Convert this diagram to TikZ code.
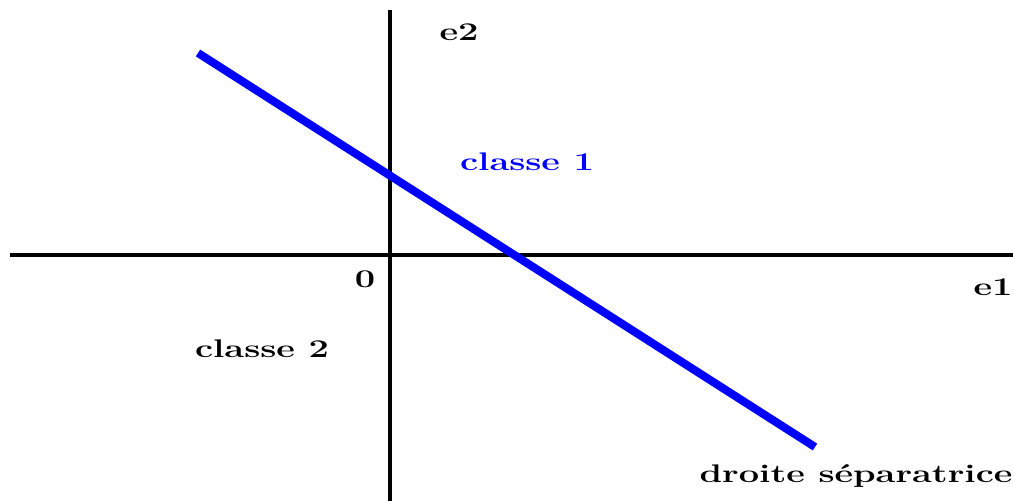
\documentclass[tikz,border=0pt]{standalone}
\usepackage{tikz}

\begin{document}
\begin{tikzpicture}[
  lbl/.style={font=\fontsize{14.5}{17}\selectfont\bfseries, xscale=1.42,
              inner sep=0pt},
  axis/.style={black, line width=2.2pt},
  sep/.style={blue, line width=4.6pt},
]
\useasboundingbox (0,0) rectangle (20.26,10.02);

% ---------------- axes --------------------------------------------------
\coordinate (xa) at (0.20, 4.92);
\coordinate (xb) at (20.26, 4.92);
\coordinate (ya) at (7.80, 0.00);
\coordinate (yb) at (7.80, 9.82);
\draw[axis] (xa) -- (xb);
\draw[axis] (ya) -- (yb);

\node[lbl] (e2) at (9.18, 9.38) {e2};
\node[lbl] (e1) at (19.86, 4.28) {e1};
\node[lbl] (orig) at (7.30, 4.44) {0};

% ---------------- separating line ---------------------------------------
\coordinate (sa) at (3.96, 8.96);
\coordinate (sb) at (16.30, 1.08);
\draw[sep] (sa) -- (sb);

% ---------------- classes -----------------------------------------------
\node[lbl, blue] (c1) at (10.54, 6.78) {classe 1};
\node[lbl] (c2) at (5.24, 3.04) {classe 2};
\node[lbl] (dsep) at (17.12, 0.50) {droite séparatrice};

\end{tikzpicture}
\end{document}
